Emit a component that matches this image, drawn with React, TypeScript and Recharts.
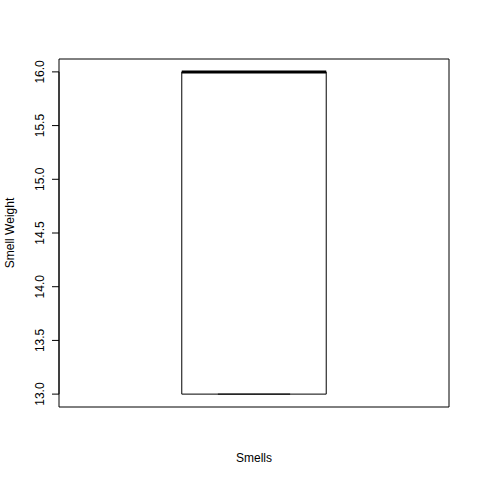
import {
  ComposedChart,
  XAxis,
  YAxis,
  ReferenceArea,
  ReferenceLine,
} from 'recharts';

// boxplot five-number summary, one group
const groups = ['Smells'];
const mins = [13];
const q1s = [13];
const medians = [16];
const q3s = [16];
const maxs = [16];
const yTicks = [13, 13.5, 14, 14.5, 15, 15.5, 16];

const FONT = '"Liberation Sans", Arial, Helvetica, sans-serif';

// R pads the ranges by 4%
const Y_DOMAIN: [number, number] = [13 - 0.04 * 3, 16 + 0.04 * 3];
const X_DOMAIN: [number, number] = [0.5 - 0.04, groups.length + 0.5 + 0.04];

const data = groups.map((g, i) => ({
  x: i + 1,
  name: g,
  min: mins[i],
  q1: q1s[i],
  median: medians[i],
  q3: q3s[i],
  max: maxs[i],
}));

function YTick({ x, y, payload }: any) {
  return (
    <g>
      <line x1={x - 7} x2={x} y1={y} y2={y} stroke="#000" />
      <text
        x={x - 19}
        y={y}
        transform={`rotate(-90, ${x - 19}, ${y})`}
        textAnchor="middle"
        dominantBaseline="central"
        fontFamily={FONT}
        fontSize={12}
        fill="#000"
      >
        {Number(payload.value).toFixed(1)}
      </text>
    </g>
  );
}

export default function App() {
  return (
    <div style={{ position: 'absolute', left: 0, top: 0, background: '#fff' }}>
      <ComposedChart
        width={480}
        height={480}
        data={data}
        margin={{ top: 59, right: 31, bottom: 0, left: 0 }}
      >
        <XAxis
          type="number"
          dataKey="x"
          domain={X_DOMAIN}
          allowDataOverflow
          tick={false}
          tickLine={false}
          axisLine={false}
          height={73}
          label={{
            content: ({ viewBox }: any) => (
              <text
                x={viewBox.x + viewBox.width / 2}
                y={viewBox.y + 51}
                textAnchor="middle"
                dominantBaseline="central"
                fontFamily={FONT}
                fontSize={12}
                fill="#000"
              >
                Smells
              </text>
            ),
          }}
        />
        <YAxis
          type="number"
          domain={Y_DOMAIN}
          allowDataOverflow
          ticks={yTicks}
          interval={0}
          tick={<YTick />}
          tickLine={false}
          tickSize={0}
          tickMargin={0}
          axisLine={false}
          width={59}
          label={{
            content: ({ viewBox }: any) => {
              const cy = viewBox.y + viewBox.height / 2;
              return (
                <text
                  x={10}
                  y={cy}
                  transform={`rotate(-90, 10, ${cy})`}
                  textAnchor="middle"
                  dominantBaseline="central"
                  fontFamily={FONT}
                  fontSize={12}
                  fill="#000"
                >
                  Smell Weight
                </text>
              );
            },
          }}
        />
        {/* plot frame */}
        <ReferenceArea
          x1={X_DOMAIN[0]}
          x2={X_DOMAIN[1]}
          y1={Y_DOMAIN[0]}
          y2={Y_DOMAIN[1]}
          fill="none"
          stroke="#000"
          strokeWidth={1}
          ifOverflow="visible"
        />
        {/* y axis line across the tick range */}
        <ReferenceLine
          segment={[{ x: X_DOMAIN[0], y: yTicks[0] }, { x: X_DOMAIN[0], y: yTicks[yTicks.length - 1] }]}
          stroke="#000"
          ifOverflow="visible"
        />
        {data.map((d) => (
          <ReferenceArea
            key={`box-${d.name}`}
            x1={d.x - 0.2}
            x2={d.x + 0.2}
            y1={d.q1}
            y2={d.q3}
            fill="none"
            stroke="#000"
            strokeWidth={1}
            ifOverflow="visible"
          />
        ))}
        {data.map((d) => (
          <ReferenceLine
            key={`lw-${d.name}`}
            segment={[{ x: d.x, y: d.min }, { x: d.x, y: d.q1 }]}
            stroke="#000"
            strokeDasharray="4 4"
          />
        ))}
        {data.map((d) => (
          <ReferenceLine
            key={`uw-${d.name}`}
            segment={[{ x: d.x, y: d.q3 }, { x: d.x, y: d.max }]}
            stroke="#000"
            strokeDasharray="4 4"
          />
        ))}
        {data.map((d) => (
          <ReferenceLine
            key={`ls-${d.name}`}
            segment={[{ x: d.x - 0.1, y: d.min }, { x: d.x + 0.1, y: d.min }]}
            stroke="#000"
            strokeWidth={1}
          />
        ))}
        {data.map((d) => (
          <ReferenceLine
            key={`us-${d.name}`}
            segment={[{ x: d.x - 0.1, y: d.max }, { x: d.x + 0.1, y: d.max }]}
            stroke="#000"
            strokeWidth={1}
          />
        ))}
        {data.map((d) => (
          <ReferenceLine
            key={`med-${d.name}`}
            segment={[{ x: d.x - 0.2, y: d.median }, { x: d.x + 0.2, y: d.median }]}
            stroke="#000"
            strokeWidth={3}
          />
        ))}
      </ComposedChart>
    </div>
  );
}
